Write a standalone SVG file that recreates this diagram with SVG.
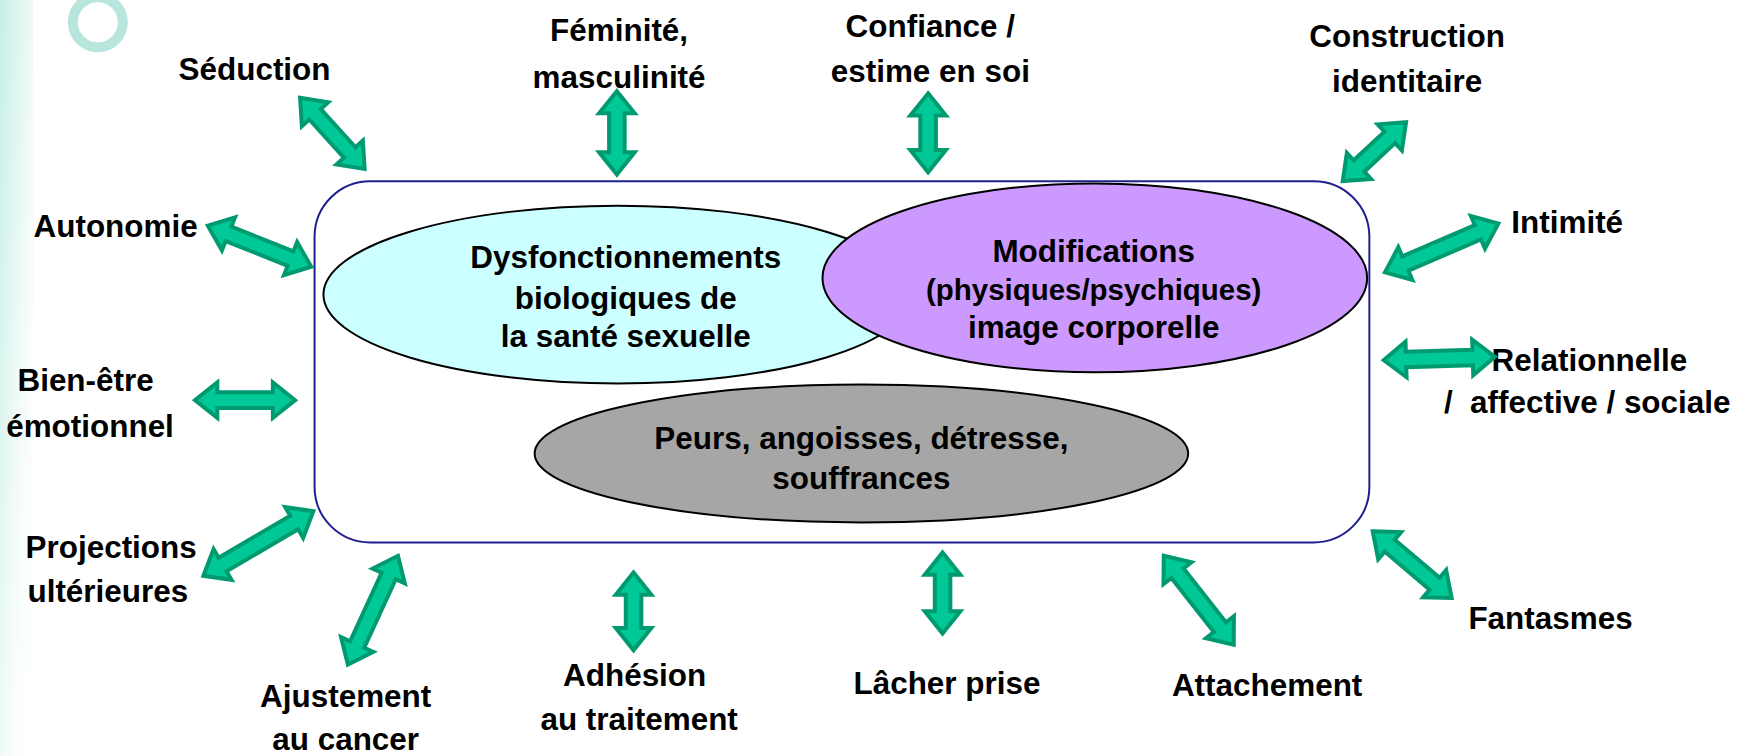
<svg xmlns="http://www.w3.org/2000/svg" width="1745" height="756" viewBox="0 0 1745 756">
<defs>
<linearGradient id="edge" x1="0" y1="0" x2="1" y2="1">
<stop offset="0" stop-color="#c6efe6"/>
<stop offset="0.5" stop-color="#eefaf7"/>
<stop offset="1" stop-color="#ffffff" stop-opacity="0"/>
</linearGradient>
<style>
text{font-family:"Liberation Sans",Arial,sans-serif;font-weight:bold;fill:#000;text-anchor:middle}
.lbl{font-size:28.3px}
.in{font-size:28.3px}
.arr{fill:#00c896;stroke:#009a70;stroke-width:3.6;stroke-linejoin:miter}
.ell{stroke:#000;stroke-width:1.8}
</style>
</defs>
<rect width="1745" height="756" fill="#fff"/>
<g transform="scale(1.1115)">
<rect x="0" y="0" width="30" height="680" fill="url(#edge)"/>
<circle cx="88" cy="20" r="22.5" fill="none" stroke="#b9e6dc" stroke-width="9"/>

<g id="box">
<rect x="283" y="163" width="949" height="325" rx="50" ry="50" fill="#fff" stroke="#1f1f8f" stroke-width="1.8"/>
</g>
<g id="bio">
<ellipse class="ell" cx="556" cy="265" rx="265" ry="80" fill="#ccffff"/>
</g>
<g id="modif">
<ellipse class="ell" cx="985" cy="250" rx="245" ry="85" fill="#cc99ff"/>
</g>
<g id="peurs">
<ellipse class="ell" cx="775" cy="408" rx="294" ry="62" fill="#a6a6a6"/>
</g>
<g id="bio-text">
<text class="in" x="563" y="241">Dysfonctionnements</text>
<text class="in" x="563" y="278">biologiques de</text>
<text class="in" x="563" y="312">la santé sexuelle</text>
</g>
<g id="modif-text">
<text class="in" x="984" y="236">Modifications</text>
<text x="984" y="270" font-size="26.5">(physiques/psychiques)</text>
<text class="in" x="984" y="304">image corporelle</text>
</g>
<g id="peurs-text">
<text class="in" x="775" y="404">Peurs, angoisses, détresse,</text>
<text class="in" x="775" y="440">souffrances</text>
</g>

<g id="seduction"><text class="lbl" x="229" y="72">Séduction</text></g>
<g id="feminite"><text class="lbl" x="557" y="37">Féminité,</text><text class="lbl" x="557" y="79">masculinité</text></g>
<g id="confiance"><text class="lbl" x="837" y="33">Confiance /</text><text class="lbl" x="837" y="74">estime en soi</text></g>
<g id="construction"><text class="lbl" x="1266" y="42">Construction</text><text class="lbl" x="1266" y="83">identitaire</text></g>
<g id="autonomie"><text class="lbl" x="104" y="213">Autonomie</text></g>
<g id="intimite"><text class="lbl" x="1410" y="210">Intimité</text></g>
<g id="bienetre"><text class="lbl" x="77" y="352">Bien-être</text><text class="lbl" x="81" y="393">émotionnel</text></g>
<g id="relationnelle"><text class="lbl" x="1430" y="334">Relationnelle</text><text class="lbl" x="1428" y="372" xml:space="preserve">/  affective / sociale</text></g>
<g id="projections"><text class="lbl" x="100" y="502">Projections</text><text class="lbl" x="97" y="542">ultérieures</text></g>
<g id="fantasmes"><text class="lbl" x="1395" y="566">Fantasmes</text></g>
<g id="ajustement"><text class="lbl" x="311" y="636">Ajustement</text><text class="lbl" x="311" y="675">au cancer</text></g>
<g id="adhesion"><text class="lbl" x="571" y="617">Adhésion</text><text class="lbl" x="575" y="657">au traitement</text></g>
<g id="lacher"><text class="lbl" x="852" y="624">Lâcher prise</text></g>
<g id="attachement"><text class="lbl" x="1140" y="626">Attachement</text></g>

<g id="connectors">
<path class="arr" transform="translate(270,88) rotate(47.8)" d="M0,0 L20,-16 L20,-7 L66.4,-7 L66.4,-16 L86.4,0 L66.4,16 L66.4,7 L20,7 L20,16 Z"/>
<path class="arr" transform="translate(555,82) rotate(90)" d="M0,0 L20,-16 L20,-7 L55,-7 L55,-16 L75,0 L55,16 L55,7 L20,7 L20,16 Z"/>
<path class="arr" transform="translate(835,84) rotate(90)" d="M0,0 L20,-16 L20,-7 L51,-7 L51,-16 L71,0 L51,16 L51,7 L20,7 L20,16 Z"/>
<path class="arr" transform="translate(1265,110) rotate(137.1)" d="M0,0 L20,-16 L20,-7 L57.8,-7 L57.8,-16 L77.8,0 L57.8,16 L57.8,7 L20,7 L20,16 Z"/>
<path class="arr" transform="translate(187,203) rotate(21.7)" d="M0,0 L20,-16 L20,-7 L80.1,-7 L80.1,-16 L100.1,0 L80.1,16 L80.1,7 L20,7 L20,16 Z"/>
<path class="arr" transform="translate(1246,245) rotate(-23.3)" d="M0,0 L20,-16 L20,-7 L91.1,-7 L91.1,-16 L111.1,0 L91.1,16 L91.1,7 L20,7 L20,16 Z"/>
<path class="arr" transform="translate(175.5,360)" d="M0,0 L20,-16 L20,-7 L70,-7 L70,-16 L90,0 L70,16 L70,7 L20,7 L20,16 Z"/>
<path class="arr" transform="translate(1245,324) rotate(-1.7)" d="M0,0 L20,-16 L20,-7 L80,-7 L80,-16 L100,0 L80,16 L80,7 L20,7 L20,16 Z"/>
<path class="arr" transform="translate(183,518) rotate(-30.4)" d="M0,0 L20,-16 L20,-7 L94.7,-7 L94.7,-16 L114.7,0 L94.7,16 L94.7,7 L20,7 L20,16 Z"/>
<path class="arr" transform="translate(1235,478) rotate(40.2)" d="M0,0 L20,-16 L20,-7 L73,-7 L73,-16 L93,0 L73,16 L73,7 L20,7 L20,16 Z"/>
<path class="arr" transform="translate(313,598) rotate(-65.3)" d="M0,0 L20,-16 L20,-7 L87.8,-7 L87.8,-16 L107.8,0 L87.8,16 L87.8,7 L20,7 L20,16 Z"/>
<path class="arr" transform="translate(570,515) rotate(90)" d="M0,0 L20,-16 L20,-7 L50,-7 L50,-16 L70,0 L50,16 L50,7 L20,7 L20,16 Z"/>
<path class="arr" transform="translate(848,497) rotate(90)" d="M0,0 L20,-16 L20,-7 L53,-7 L53,-16 L73,0 L53,16 L53,7 L20,7 L20,16 Z"/>
<path class="arr" transform="translate(1047,500) rotate(51.8)" d="M0,0 L20,-16 L20,-7 L81.8,-7 L81.8,-16 L101.8,0 L81.8,16 L81.8,7 L20,7 L20,16 Z"/>
</g>
</g>
</svg>
